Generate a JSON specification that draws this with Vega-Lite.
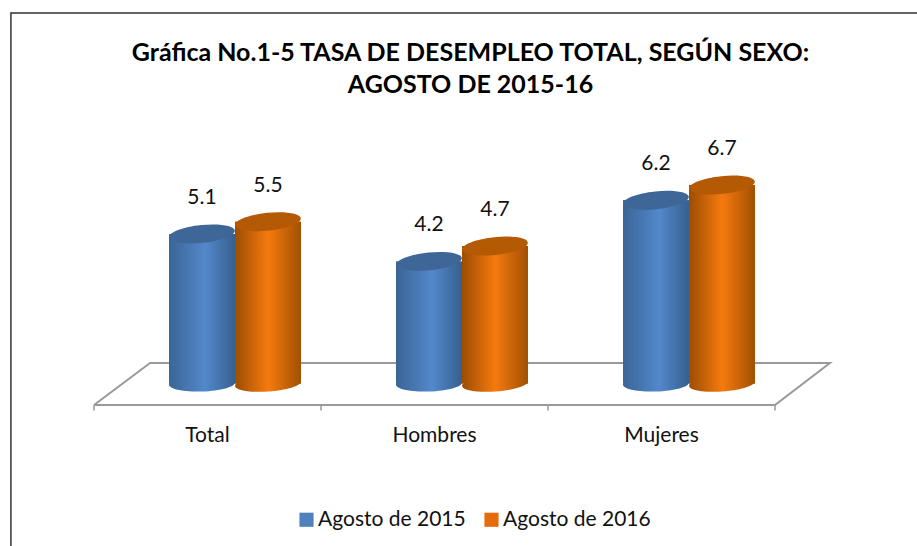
{
  "$schema": "https://vega.github.io/schema/vega-lite/v6.json",
  "autosize": {"type": "none"},
  "padding": {"left": 94, "top": 130, "right": 142, "bottom": 141},
  "width": 681,
  "height": 275,
  "background": "white",
  "title": {
    "text": ["Gráfica No.1-5 TASA DE DESEMPLEO TOTAL, SEGÚN SEXO:", "AGOSTO DE 2015-16"],
    "font": "Lato", "fontSize": 25, "fontWeight": "bold", "color": "#000000",
    "anchor": "middle", "dx": 36, "offset": -86, "lineHeight": 32
  },
  "config": {"view": {"stroke": null}},
  "datasets": {
    "tasas": [
      {"categoria": "Total", "serie": "Agosto de 2015", "valor": 5.1},
      {"categoria": "Total", "serie": "Agosto de 2016", "valor": 5.5},
      {"categoria": "Hombres", "serie": "Agosto de 2015", "valor": 4.2},
      {"categoria": "Hombres", "serie": "Agosto de 2016", "valor": 4.7},
      {"categoria": "Mujeres", "serie": "Agosto de 2015", "valor": 6.2},
      {"categoria": "Mujeres", "serie": "Agosto de 2016", "valor": 6.7}
    ],
    "piso": [
      {"orden": 1, "pos": 0, "nivel": -0.5},
      {"orden": 2, "pos": 0.247, "nivel": 0.875},
      {"orden": 3, "pos": 3.242, "nivel": 0.875},
      {"orden": 4, "pos": 3, "nivel": -0.5},
      {"orden": 5, "pos": 0, "nivel": -0.5}
    ],
    "marcas": [{"pos": 0}, {"pos": 1}, {"pos": 2}, {"pos": 3}],
    "marco": [{"x0": -0.366, "x1": 3.7, "y0": -6, "y1": 12.33}]
  },
  "resolve": {"scale": {"x": "independent"}},
  "layer": [
    {
      "layer": [
        {
          "data": {"name": "marco"},
          "mark": {"type": "rect", "fill": "transparent", "stroke": "#333333", "strokeWidth": 1.5},
          "encoding": {
            "x": {"field": "x0", "type": "quantitative", "scale": {"domain": [0, 3], "nice": false, "zero": false}, "axis": null},
            "x2": {"field": "x1"},
            "y": {"field": "y0", "type": "quantitative", "scale": {"domain": [-0.5, 8.5], "nice": false, "zero": false}, "axis": null},
            "y2": {"field": "y1"}
          }
        },
        {
          "data": {"name": "piso"},
          "mark": {"type": "line", "stroke": "#999999", "strokeWidth": 2},
          "encoding": {
            "x": {"field": "pos", "type": "quantitative", "scale": {"domain": [0, 3], "nice": false, "zero": false}, "axis": null},
            "y": {"field": "nivel", "type": "quantitative", "scale": {"domain": [-0.5, 8.5], "nice": false, "zero": false}, "axis": null},
            "order": {"field": "orden", "type": "quantitative"}
          }
        },
        {
          "data": {"name": "marcas"},
          "mark": {"type": "rule", "stroke": "#999999", "strokeWidth": 1.5},
          "encoding": {
            "x": {"field": "pos", "type": "quantitative", "scale": {"domain": [0, 3], "nice": false, "zero": false}, "axis": null},
            "y": {"datum": -0.5, "type": "quantitative", "scale": {"domain": [-0.5, 8.5], "nice": false, "zero": false}, "axis": null},
            "y2": {"datum": -0.68}
          }
        }
      ]
    },
    {
      "data": {"name": "tasas"},
      "encoding": {
        "x": {"field": "categoria", "type": "nominal", "sort": ["Total", "Hombres", "Mujeres"],
          "scale": {"paddingInner": 0, "paddingOuter": 0},
          "axis": {"orient": "bottom", "title": null, "domain": false, "ticks": false, "labelAngle": 0, "labelFont": "Lato", "labelFontSize": 21, "labelColor": "#111111", "labelPadding": 19, "grid": false}},
        "xOffset": {"field": "serie", "type": "nominal", "scale": {"range": [75, 207], "paddingInner": 0, "paddingOuter": 0}},
        "y": {"field": "valor", "type": "quantitative", "stack": null, "scale": {"domain": [-0.5, 8.5], "nice": false, "zero": false}, "axis": null}
      },
      "layer": [
        {
          "mark": {"type": "bar", "opacity": 1},
          "encoding": {
            "y2": {"datum": 0.2},
            "color": {"field": "serie", "type": "nominal",
              "scale": {"domain": ["Agosto de 2015", "Agosto de 2016"], "range": ["#4F81BD", "#E46C0A"]},
              "legend": {"title": null, "orient": "none", "direction": "horizontal", "columns": 2, "legendX": 202, "legendY": 379, "labelFont": "Lato", "labelFontSize": 21, "labelColor": "#111111", "symbolType": "square", "symbolSize": 200, "columnPadding": 15, "labelOffset": 1}}
          }
        },
        {
          "transform": [{"filter": "datum.serie === 'Agosto de 2015'"}],
          "layer": [
            {
              "mark": {"type": "point", "filled": true, "size": 4356, "angle": 358, "opacity": 1,
                "shape": "M-1,0 C-1,-.13 -.55,-.24 0,-.24 C.55,-.24 1,-.13 1,0 C1,.13 .55,.24 0,.24 C-.55,.24 -1,.13 -1,0 Z",
                "fill": {"gradient": "linear", "x1": 0, "x2": 1, "y1": 0, "y2": 0, "stops": [{"offset": 0, "color": "#3A6596"}, {"offset": 0.55, "color": "#5388CC"}, {"offset": 1, "color": "#36608E"}]}},
              "encoding": {"y": {"datum": 0.2}}
            },
            {
              "mark": {"type": "bar",
                "fill": {"gradient": "linear", "x1": 0, "x2": 1, "y1": 0, "y2": 0, "stops": [{"offset": 0, "color": "#3A6596"}, {"offset": 0.55, "color": "#5388CC"}, {"offset": 1, "color": "#36608E"}]}},
              "encoding": {"y2": {"datum": 0.2}}
            },
            {
              "mark": {"type": "point", "filled": true, "size": 4356, "angle": 354, "opacity": 1, "fill": "#3E6797",
                "shape": "M-1,0 C-1,-.15 -.55,-.27 0,-.27 C.55,-.27 1,-.15 1,0 C1,.15 .55,.27 0,.27 C-.55,.27 -1,.15 -1,0 Z"}
            }
          ]
        },
        {
          "transform": [{"filter": "datum.serie === 'Agosto de 2016'"}],
          "layer": [
            {
              "mark": {"type": "point", "filled": true, "size": 4356, "angle": 356, "opacity": 1,
                "shape": "M-1,0 C-1,-.13 -.55,-.24 0,-.24 C.55,-.24 1,-.13 1,0 C1,.13 .55,.24 0,.24 C-.55,.24 -1,.13 -1,0 Z",
                "fill": {"gradient": "linear", "x1": 0, "x2": 1, "y1": 0, "y2": 0, "stops": [{"offset": 0, "color": "#9C4D02"}, {"offset": 0.5, "color": "#F57A0E"}, {"offset": 1, "color": "#A25002"}]}},
              "encoding": {"y": {"datum": 0.2}}
            },
            {
              "mark": {"type": "bar",
                "fill": {"gradient": "linear", "x1": 0, "x2": 1, "y1": 0, "y2": 0, "stops": [{"offset": 0, "color": "#9C4D02"}, {"offset": 0.5, "color": "#F57A0E"}, {"offset": 1, "color": "#A25002"}]}},
              "encoding": {"y2": {"datum": 0.2}}
            },
            {
              "mark": {"type": "point", "filled": true, "size": 4356, "angle": 354, "opacity": 1, "fill": "#B55A04",
                "shape": "M-1,0 C-1,-.15 -.55,-.27 0,-.27 C.55,-.27 1,-.15 1,0 C1,.15 .55,.27 0,.27 C-.55,.27 -1,.15 -1,0 Z"}
            }
          ]
        },
        {
          "mark": {"type": "text", "font": "Lato", "fontSize": 21, "color": "#111111", "dy": -36},
          "encoding": {"text": {"field": "valor", "type": "quantitative", "format": ".1f"}}
        }
      ]
    }
  ]
}
